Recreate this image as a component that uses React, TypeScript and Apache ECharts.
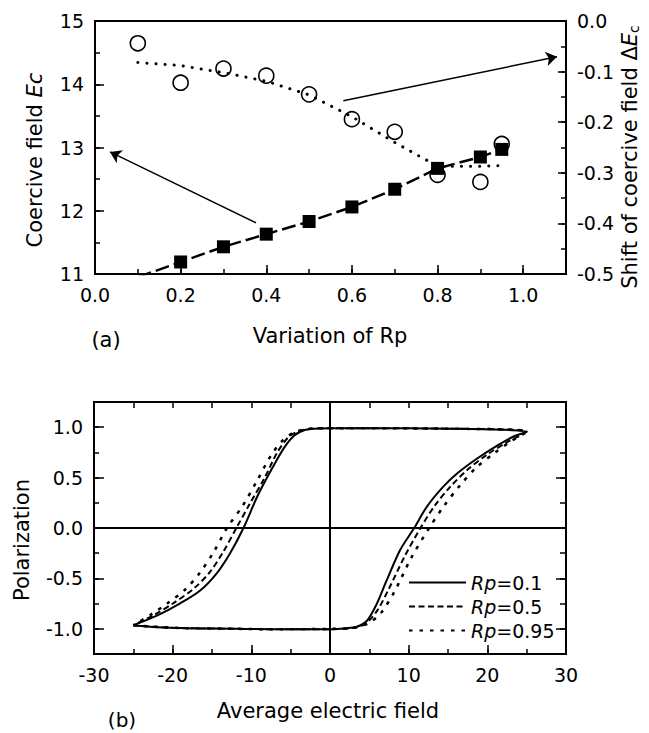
import React, { useEffect, useRef } from 'react';
import * as echarts from 'echarts';

// ---------- Panel (a) data ----------
const rpPoints = [0.2, 0.3, 0.4, 0.5, 0.6, 0.7, 0.8, 0.9, 0.95];
const ecPoints = [11.19, 11.43, 11.63, 11.83, 12.06, 12.34, 12.67, 12.85, 12.97];
const ecLineRp = [0.1, 0.2, 0.3, 0.4, 0.5, 0.6, 0.7, 0.8, 0.9, 0.95];
const ecLineValues = [10.95, 11.19, 11.43, 11.63, 11.83, 12.06, 12.34, 12.67, 12.85, 12.97];
const shiftRp = [0.1, 0.2, 0.3, 0.4, 0.5, 0.6, 0.7, 0.8, 0.9, 0.95];
const shiftPoints = [-0.044, -0.122, -0.094, -0.108, -0.145, -0.194, -0.219, -0.304, -0.318, -0.243];
const shiftFitRp = [0.1, 0.2, 0.3, 0.4, 0.5, 0.6, 0.7, 0.8, 0.9, 0.95];
const shiftFitValues = [-0.082, -0.088, -0.102, -0.119, -0.146, -0.189, -0.24, -0.287, -0.287, -0.286];
const arrowToEc = [[0.376, 11.81], [0.035, 12.93]];
const arrowToShift = [[0.58, -0.1575], [1.079, -0.0706]];

// ---------- Panel (b) data ----------
const loop01Field = [-25, -22, -18, -12, -6, 0, 2, 3.4, 4.7, 5.9, 7.2, 8.9, 10.7, 12.3, 14.4, 16.3, 18.7, 21.3, 23.4, 25,
  22, 15, 5, 0, -2, -3.3, -4.5, -5.8, -7.3, -9.2, -11.0, -12.7, -14.4, -16.5, -19.1, -22, -25];
const loop01Pol = [-0.965, -0.985, -0.995, -1.0, -1.005, -1.005, -0.995, -0.98, -0.92, -0.76, -0.52, -0.22, 0.0, 0.21, 0.41, 0.55, 0.69, 0.82, 0.91, 0.955,
  0.975, 0.985, 0.99, 0.99, 0.985, 0.97, 0.92, 0.8, 0.6, 0.32, 0.0, -0.25, -0.45, -0.62, -0.75, -0.87, -0.965];
const loop05Field = [-25, -20, -12, -6, 0, 3, 4.5, 6.0, 7.5, 9.5, 11.5, 13.3, 15.3, 17.5, 20, 22.5, 25,
  15, 0, -2.5, -4, -5.3, -6.7, -8.3, -10.2, -11.9, -13.6, -15.3, -17.3, -19.8, -22.3, -25];
const loop05Pol = [-0.965, -0.99, -1.0, -1.005, -1.005, -0.99, -0.95, -0.82, -0.6, -0.28, 0.0, 0.22, 0.41, 0.58, 0.73, 0.85, 0.955,
  0.985, 0.99, 0.985, 0.96, 0.9, 0.75, 0.5, 0.24, 0.0, -0.24, -0.44, -0.6, -0.74, -0.86, -0.965];
const loop095Field = [-25, -20, -12, -6, 0, 3, 5, 6.5, 8.2, 10.3, 12.6, 14.5, 16.5, 18.6, 21, 23, 25,
  15, 0, -2.5, -4.5, -6, -7.5, -9.2, -11.1, -13.1, -14.8, -16.5, -18.4, -20.7, -22.8, -25];
const loop095Pol = [-0.965, -0.99, -1.0, -1.005, -1.0, -0.99, -0.94, -0.84, -0.63, -0.3, 0.0, 0.22, 0.42, 0.6, 0.75, 0.86, 0.955,
  0.985, 0.99, 0.985, 0.95, 0.87, 0.72, 0.48, 0.22, 0.0, -0.24, -0.44, -0.61, -0.75, -0.86, -0.965];
const legendNames = ['Rp=0.1', 'Rp=0.5', 'Rp=0.95'];
const polTicks = [-1, -0.5, 0, 0.5, 1];

const FONT = 'DejaVu Sans';
const zip = (a: number[], b: number[]) => a.map((v, i) => [v, b[i]]);

const fmt1 = (v: number) => (Math.abs(v) < 1e-9 ? '0.0' : v.toFixed(1));

function axis(o: any) {
  const { major, length, labels, ...rest } = o;
  return {
    type: 'value',
    splitLine: { show: false },
    axisLine: { show: false, onZero: false },
    axisTick: { show: true, inside: true, length: length ?? (major ? 9 : 5), lineStyle: { color: '#000', width: 1.5 } },
    axisLabel: labels
      ? { show: true, color: '#000', fontSize: 19, fontFamily: FONT, margin: 11, ...labels }
      : { show: false },
    silent: true,
    ...rest,
  };
}

export default function App() {
  const ref = useRef<HTMLDivElement>(null);
  useEffect(() => {
    const chart = echarts.init(ref.current!, null, { renderer: 'svg' });
    const lineTitle = (text: string, x: number, y: number, rot: boolean, rich?: any, size = 21) => ({
      type: 'text',
      x,
      y,
      rotation: rot ? Math.PI / 2 : 0,
      silent: true,
      style: {
        text,
        fontSize: size,
        fontFamily: FONT,
        fill: '#000',
        align: 'center',
        verticalAlign: 'middle',
        rich,
      },
    });
    const option: any = {
      animation: false,
      backgroundColor: '#fff',
      grid: [
        { left: 95, top: 21, width: 471, height: 253, show: true, borderColor: '#000', borderWidth: 2 },
        { left: 94, top: 402, width: 472, height: 252, show: true, borderColor: '#000', borderWidth: 2 },
      ],
      xAxis: [
        axis({
          gridIndex: 0, position: 'bottom', min: 0, max: 1.1, interval: 0.2, major: true,
          labels: { formatter: (v: number) => (v > 1.05 ? '' : v.toFixed(1)) },
        }),
        axis({ gridIndex: 0, position: 'bottom', min: 0, max: 1.1, interval: 0.1 }),
        axis({
          gridIndex: 1, position: 'bottom', min: -30, max: 30, interval: 10, major: true,
          labels: { formatter: (v: number) => String(Math.round(v)) },
        }),
        axis({ gridIndex: 1, position: 'bottom', min: -30, max: 30, interval: 5 }),
        axis({ gridIndex: 1, position: 'top', min: -30, max: 30, interval: 5, length: 6 }),
      ],
      yAxis: [
        axis({
          gridIndex: 0, position: 'left', min: 11, max: 15, interval: 1, major: true,
          labels: { formatter: (v: number) => String(Math.round(v)) },
        }),
        axis({ gridIndex: 0, position: 'left', min: 11, max: 15, interval: 0.5 }),
        axis({
          gridIndex: 0, position: 'right', min: -0.5, max: 0, interval: 0.1, major: true, length: 8,
          labels: { formatter: fmt1 },
        }),
        axis({ gridIndex: 0, position: 'right', min: -0.5, max: 0, interval: 0.05 }),
        (() => {
          const a: any = axis({
            gridIndex: 1, position: 'left', min: -1.25, max: 1.25, interval: 0.25, major: true, length: 10,
            labels: { formatter: fmt1, customValues: polTicks },
          });
          a.axisTick.customValues = polTicks;
          return a;
        })(),
        axis({ gridIndex: 1, position: 'left', min: -1.25, max: 1.25, interval: 0.25 }),
        (() => {
          const a: any = axis({ gridIndex: 1, position: 'right', min: -1.25, max: 1.25, interval: 0.25, major: true, length: 10 });
          a.axisTick.customValues = polTicks;
          return a;
        })(),
        axis({ gridIndex: 1, position: 'right', min: -1.25, max: 1.25, interval: 0.25, length: 6 }),
      ],
      legend: {
        data: legendNames,
        orient: 'vertical',
        left: 403,
        top: 568,
        itemWidth: 57,
        itemHeight: 14,
        itemGap: 5,
        selectedMode: false,
        itemStyle: { opacity: 0 },
        formatter: (name: string) => '{i|Rp}' + name.slice(2),
        textStyle: {
          fontSize: 19,
          fontFamily: FONT,
          color: '#000',
          rich: { i: { fontStyle: 'italic', fontSize: 19, fontFamily: FONT, color: '#000' } },
        },
      },
      series: [
        {
          type: 'line', xAxisIndex: 0, yAxisIndex: 0, symbol: 'none', silent: true,
          data: zip(ecLineRp, ecLineValues),
          lineStyle: { color: '#000', width: 2.5, type: [14, 5] },
          z: 2,
        },
        {
          type: 'scatter', xAxisIndex: 0, yAxisIndex: 0, symbol: 'rect', symbolSize: 13, silent: true,
          data: zip(rpPoints, ecPoints),
          itemStyle: { color: '#000', opacity: 1 },
          z: 3,
          markLine: {
            silent: true, symbol: ['none', 'arrow'], symbolSize: 11,
            label: { show: false },
            lineStyle: { color: '#000', width: 1.5, type: 'solid' },
            emphasis: { disabled: true },
            data: [[{ coord: arrowToEc[0] }, { coord: arrowToEc[1] }]],
          },
        },
        {
          type: 'line', xAxisIndex: 0, yAxisIndex: 2, symbol: 'none', silent: true,
          data: zip(shiftFitRp, shiftFitValues),
          lineStyle: { color: '#000', width: 3, type: [0.1, 9], cap: 'round' },
          z: 2,
        },
        {
          type: 'scatter', xAxisIndex: 0, yAxisIndex: 2, symbol: 'circle', symbolSize: 15, silent: true,
          data: zip(shiftRp, shiftPoints),
          itemStyle: { color: 'rgba(0,0,0,0)', borderColor: '#000', borderWidth: 1.6, opacity: 1 },
          z: 3,
          markLine: {
            silent: true, symbol: ['none', 'arrow'], symbolSize: 11,
            label: { show: false },
            lineStyle: { color: '#000', width: 1.5, type: 'solid' },
            emphasis: { disabled: true },
            data: [[{ coord: arrowToShift[0] }, { coord: arrowToShift[1] }]],
          },
        },
        {
          name: legendNames[0], type: 'line', xAxisIndex: 2, yAxisIndex: 4, symbol: 'none', smooth: 0.3, silent: true,
          data: zip(loop01Field, loop01Pol),
          lineStyle: { color: '#000', width: 2, type: 'solid' },
          itemStyle: { color: '#000' },
          markLine: {
            silent: true, symbol: ['none', 'none'],
            label: { show: false },
            lineStyle: { color: '#000', width: 2, type: 'solid' },
            emphasis: { disabled: true },
            data: [{ xAxis: 0 }, { yAxis: 0 }],
          },
        },
        {
          name: legendNames[1], type: 'line', xAxisIndex: 2, yAxisIndex: 4, symbol: 'none', smooth: 0.3, silent: true,
          data: zip(loop05Field, loop05Pol),
          lineStyle: { color: '#000', width: 2, type: [6, 3.5] },
          itemStyle: { color: '#000' },
        },
        {
          name: legendNames[2], type: 'line', xAxisIndex: 2, yAxisIndex: 4, symbol: 'none', smooth: 0.3, silent: true,
          data: zip(loop095Field, loop095Pol),
          lineStyle: { color: '#000', width: 2.5, type: [3.5, 7] },
          itemStyle: { color: '#000' },
        },
      ],
      graphic: [
        lineTitle('Coercive field {i|Ec}', 35, 160, true, {
          i: { fontStyle: 'italic', fontSize: 21, fontFamily: FONT },
        }),
        lineTitle('Shift of coercive field Δ{i|E}{sub|c}', 630, 157, true, {
          i: { fontStyle: 'italic', fontSize: 21, fontFamily: FONT },
          sub: { fontSize: 14, fontFamily: FONT, verticalAlign: 'bottom', padding: [8, 0, 0, 0] },
        }),
        lineTitle('Variation of Rp', 330, 336, false),
        lineTitle('(a)', 106, 340, false),
        lineTitle('Polarization', 22, 540, true),
        lineTitle('Average electric field', 328, 711, false),
        lineTitle('(b)', 122, 720, false, undefined, 20),
      ],
    };
    chart.setOption(option);
    return () => chart.dispose();
  }, []);
  return (
    <div
      ref={ref}
      style={{ position: 'absolute', left: 0, top: 0, width: 649, height: 733, background: '#fff' }}
    />
  );
}
